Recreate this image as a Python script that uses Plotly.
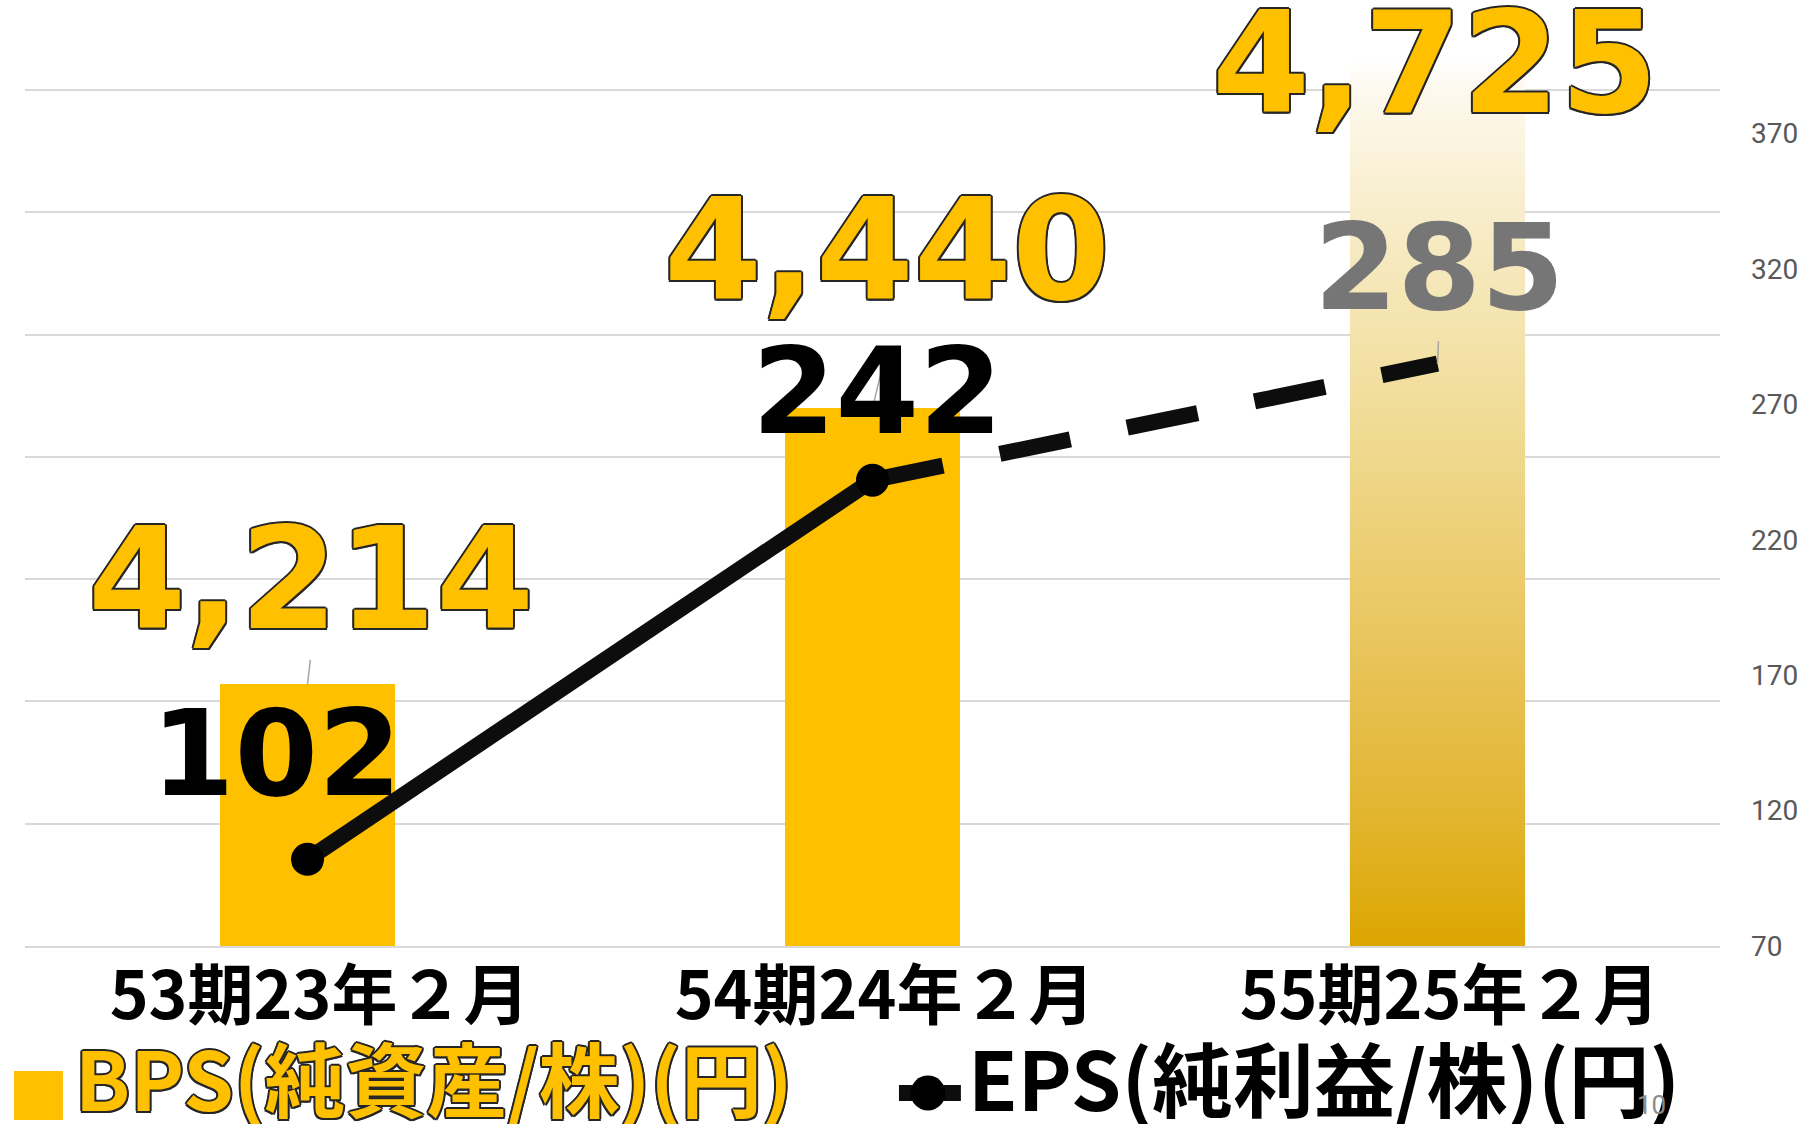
import plotly.graph_objects as go

# ---------------- data ----------------
categories = ["53期23年２月", "54期24年２月", "55期25年２月"]
bps = [4214, 4440, 4725]          # BPS (純資産/株)(円)
eps = [102, 242, 285]             # EPS (純利益/株)(円)
eps_ticks = [70, 120, 170, 220, 270, 320, 370]
bps_axis_min = 4000
bps_grid_step = 100
legend_bps = "BPS(純資産/株)(円)"
legend_eps = "EPS(純利益/株)(円)"
page_number = "10"

# ---------------- styles / layout ----------------
W, H = 1810, 1124
L, R, T, B = 25, 1722, 40, 946          # plot area in pixels
px_per_bps = 856 / 700                   # pixels per BPS unit
px_per_eps = 812.5 / 300                 # pixels per EPS unit
y1_top = bps_axis_min + (B - T) / px_per_bps
y2_top = eps_ticks[0] + (B - T) / px_per_eps

GOLD = "#FFC000"
BAR_W = 0.31
outline = ", ".join(f"{dx}px {dy}px 0 #262626" for dx, dy in
                    [(-1.5, -1.5), (1.5, -1.5), (-1.5, 1.5), (1.5, 1.5),
                     (0, 2), (2, 0), (0, -2), (-2, 0)])

bps_label_shift = [(3, 105), (14, 158), (-3, -4)]
eps_label_shift = [(-31, 106), (5, 89), (2, 96)]
eps_label_colors = ["#000000", "#000000", "#767676"]
bps_leader = [(3, -26), (14, -58), None]
eps_leader = [None, None, (1, -24)]

xi = list(range(len(categories)))


def pxx(p):
    return (p - L) / (R - L)


def pxy(p):
    return (B - p) / (B - T)


fig = go.Figure()

# bars (third one is drawn with a gradient polygon below)
fig.add_trace(go.Bar(
    x=xi, y=bps, width=BAR_W,
    marker=dict(color=[GOLD, GOLD, "rgba(0,0,0,0)"], line=dict(width=0)),
    showlegend=False, hoverinfo="skip",
))

i = 2
fig.add_trace(go.Scatter(
    x=[xi[i] - BAR_W / 2, xi[i] + BAR_W / 2, xi[i] + BAR_W / 2, xi[i] - BAR_W / 2, xi[i] - BAR_W / 2],
    y=[bps_axis_min, bps_axis_min, bps[i], bps[i], bps_axis_min],
    mode="lines", line=dict(width=0), fill="toself",
    fillgradient=dict(
        type="vertical", start=bps_axis_min, stop=bps[i],
        colorscale=[[0, "#DCA600"], [0.138, "#E2B42C"], [0.275, "#E6BF4E"],
                    [0.414, "#EBCB6C"], [0.551, "#EFD88C"], [0.638, "#F2DFA0"],
                    [0.828, "#F8EDCB"], [0.965, "#FDF9EE"], [1, "#FFFFFF"]],
    ),
    showlegend=False, hoverinfo="skip",
))

# EPS line: actual (solid) and forecast (dashed)
fig.add_trace(go.Scatter(
    x=xi[1:3], y=eps[1:3], yaxis="y2", mode="lines",
    line=dict(color="#0D0D0D", width=16, dash="72px,58px"),
    showlegend=False, hoverinfo="skip",
))
fig.add_trace(go.Scatter(
    x=xi[0:2], y=eps[0:2], yaxis="y2", mode="lines+markers",
    line=dict(color="#0D0D0D", width=16),
    marker=dict(color="#000000", size=33),
    showlegend=False, hoverinfo="skip",
))

ann = []
# leader lines
for k in xi:
    if bps_leader[k]:
        ax, ay = bps_leader[k]
        ann.append(dict(x=xi[k], y=bps[k], xref="x", yref="y", text="", showarrow=True,
                        arrowhead=0, arrowwidth=1.5, arrowcolor="#A6A6A6", ax=ax, ay=ay))
    if eps_leader[k]:
        ax, ay = eps_leader[k]
        ann.append(dict(x=xi[k], y=eps[k], xref="x", yref="y2", text="", showarrow=True,
                        arrowhead=0, arrowwidth=1.5, arrowcolor="#A6A6A6", ax=ax, ay=ay))

# data labels
for k in xi:
    xs, ys = bps_label_shift[k]
    ann.append(dict(x=xi[k], y=bps[k], xref="x", yref="y", text=f"{bps[k]:,}",
                    showarrow=False, xanchor="center", yanchor="middle",
                    xshift=xs, yshift=ys,
                    font=dict(family="DejaVu Sans", size=141, weight="bold",
                              color=GOLD, shadow=outline)))
for k in xi:
    xs, ys = eps_label_shift[k]
    ann.append(dict(x=xi[k], y=eps[k], xref="x", yref="y2", text=f"{eps[k]:,}",
                    showarrow=False, xanchor="center", yanchor="middle",
                    xshift=xs, yshift=ys,
                    font=dict(family="DejaVu Sans", size=120,
                              weight="bold", color=eps_label_colors[k])))

# legend (drawn manually)
ann.append(dict(x=pxx(73), y=pxy(1075), xref="paper", yref="paper", text=legend_bps,
                showarrow=False, xanchor="left", yanchor="middle",
                font=dict(family="Noto Sans CJK JP", size=81, weight="bold", color=GOLD,
                          shadow=outline)))
ann.append(dict(x=pxx(967), y=pxy(1075), xref="paper", yref="paper", text=legend_eps,
                showarrow=False, xanchor="left", yanchor="middle",
                font=dict(family="Noto Sans CJK JP", size=81, weight="bold", color="#000000")))
ann.append(dict(x=pxx(1653), y=pxy(1105), xref="paper", yref="paper", text=page_number,
                showarrow=False, xanchor="center", yanchor="middle",
                font=dict(family="Roboto", size=26, color="#8C8C8C")))

shapes = [
    dict(type="rect", xref="paper", yref="paper", x0=pxx(14), x1=pxx(63),
         y0=pxy(1120), y1=pxy(1071), fillcolor=GOLD, line=dict(width=0)),
    dict(type="line", xref="paper", yref="paper", x0=pxx(900), x1=pxx(962),
         y0=pxy(1093), y1=pxy(1093), line=dict(color="#0D0D0D", width=16)),
    dict(type="circle", xref="paper", yref="paper", x0=pxx(929 - 17.5), x1=pxx(929 + 17.5),
         y0=pxy(1093 + 17.5), y1=pxy(1093 - 17.5), fillcolor="#000000", line=dict(width=0)),
]

fig.update_layout(
    width=W, height=H,
    margin=dict(l=L, r=W - R, t=T, b=H - B, pad=0),
    paper_bgcolor="white", plot_bgcolor="white",
    showlegend=False,
    bargap=0,
    xaxis=dict(range=[-0.5, 2.5], tickvals=xi, ticktext=categories, showgrid=False,
               zeroline=False, showline=True, linecolor="#D9D9D9", linewidth=2,
               ticks="", ticklabelstandoff=-8, ticklabelshift=12,
               tickfont=dict(family="Noto Sans CJK JP", size=66, weight="bold", color="#000000")),
    yaxis=dict(range=[bps_axis_min, y1_top], dtick=bps_grid_step, tick0=bps_axis_min,
               showticklabels=False, showgrid=True, gridcolor="#D9D9D9", gridwidth=2,
               zeroline=False, ticks=""),
    yaxis2=dict(range=[eps_ticks[0], y2_top], overlaying="y", side="right",
                tickvals=eps_ticks, showgrid=False, zeroline=False, ticks="",
                ticklabelstandoff=30,
                tickfont=dict(family="Roboto", size=28, color="#595959")),
    annotations=ann, shapes=shapes,
)

fig.write_html("out.html")
